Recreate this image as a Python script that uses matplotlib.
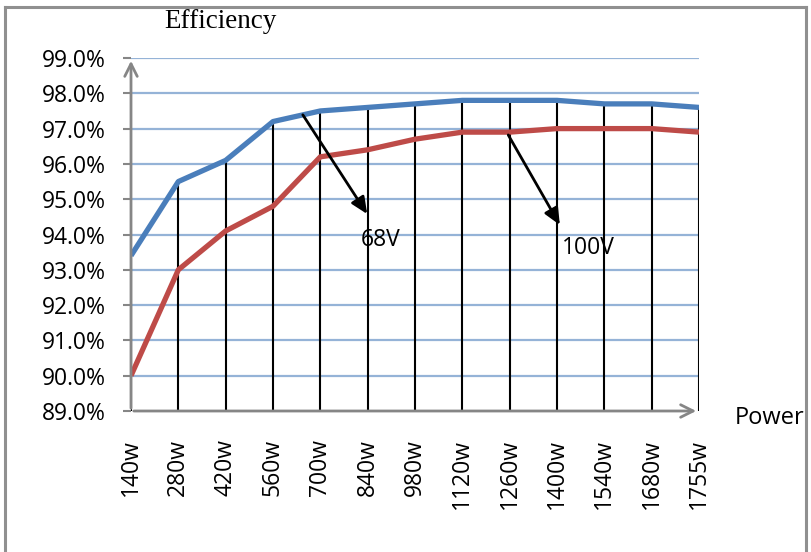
import matplotlib
matplotlib.use("Agg")
import matplotlib.pyplot as plt
from matplotlib.lines import Line2D

# Output power steps and measured efficiency (%)
power_labels = ["140w", "280w", "420w", "560w", "700w", "840w", "980w",
                "1120w", "1260w", "1400w", "1540w", "1680w", "1755w"]
eff_68v = [93.4, 95.5, 96.1, 97.2, 97.5, 97.6, 97.7, 97.8, 97.8, 97.8, 97.7, 97.7, 97.6]
eff_100v = [90.0, 93.0, 94.1, 94.8, 96.2, 96.4, 96.7, 96.9, 96.9, 97.0, 97.0, 97.0, 96.9]
y_ticks = [89, 90, 91, 92, 93, 94, 95, 96, 97, 98, 99]

W, H = 811, 552
fig = plt.figure(figsize=(W / 100, H / 100), dpi=100)
fig.patch.set_facecolor("white")

ax = fig.add_axes([131 / W, (H - 411) / H, (699 - 131) / W, (411 - 58) / H])
x = list(range(len(power_labels)))

# horizontal gridlines
for yv in y_ticks[1:]:
    ax.axhline(yv, color="#95B3D7", lw=1.6, zorder=1)

# drop lines from the upper series down to the axis
tops = [max(a, b) for a, b in zip(eff_68v, eff_100v)]
ax.vlines(x, y_ticks[0], tops, color="black", lw=1.5, zorder=2)

ax.plot(x, eff_68v, color="#4A7EBB", lw=3.8, solid_capstyle="butt", zorder=3)
ax.plot(x, eff_100v, color="#BE4B48", lw=3.8, solid_capstyle="butt", zorder=3)

ax.set_xlim(0, len(power_labels) - 1)
ax.set_ylim(y_ticks[0], y_ticks[-1])
ax.set_yticks(y_ticks)
ax.set_yticklabels([f"{v:.1f}%" for v in y_ticks])
ax.set_xticks(x)
ax.set_xticklabels(power_labels, rotation=90)

lab_font = "Open Sans"
ax.tick_params(axis="y", length=6, width=1.5, color="#868686", pad=12,
               labelsize=16.5)
ax.tick_params(axis="x", length=0, pad=20, labelsize=16.5)
for t in ax.get_yticklabels() + ax.get_xticklabels():
    t.set_fontfamily(lab_font)

for s in ax.spines.values():
    s.set_visible(False)

# axis arrows
arrow_kw = dict(arrowstyle="->,head_length=0.9,head_width=0.45",
                color="#868686", lw=2)
ax.annotate("", xy=(0, 1.0), xytext=(0, 0), xycoords="axes fraction",
            arrowprops=arrow_kw, annotation_clip=False, zorder=4)
ax.annotate("", xy=(1.0, 0), xytext=(0, 0), xycoords="axes fraction",
            arrowprops=arrow_kw, annotation_clip=False, zorder=4)

# callouts
callout_kw = dict(arrowstyle="-|>,head_length=1.0,head_width=0.45",
                  color="black", lw=2, shrinkA=0, shrinkB=0)
ax.annotate("", xy=(4.99, 94.58), xytext=(3.63, 97.39),
            arrowprops=callout_kw, zorder=5)
ax.text(5.28, 93.84, "68V", fontsize=16.5, family=lab_font,
        ha="center", va="center", zorder=5)
ax.annotate("", xy=(9.06, 94.27), xytext=(7.97, 96.82),
            arrowprops=callout_kw, zorder=5)
ax.text(9.66, 93.62, "100V", fontsize=16.5, family=lab_font,
        ha="center", va="center", zorder=5)

# axis titles
fig.text(220 / W, 1 - 22 / H, "Efficiency", family="Liberation Serif",
         fontsize=19.5, ha="center", va="center")
fig.text(735 / W, 1 - 418 / H, "Power", family=lab_font,
         fontsize=17, ha="left", va="center")

# chart frame
frame = dict(color="#909090", lw=2.2, transform=fig.transFigure)
fig.add_artist(Line2D([5 / W, 5 / W], [0, 1 - 7 / H], **frame))
fig.add_artist(Line2D([806 / W, 806 / W], [0, 1 - 7 / H], **frame))
fig.add_artist(Line2D([5 / W, 806 / W], [1 - 7 / H, 1 - 7 / H], **frame))

fig.savefig("out.png", dpi=100, facecolor="white")
